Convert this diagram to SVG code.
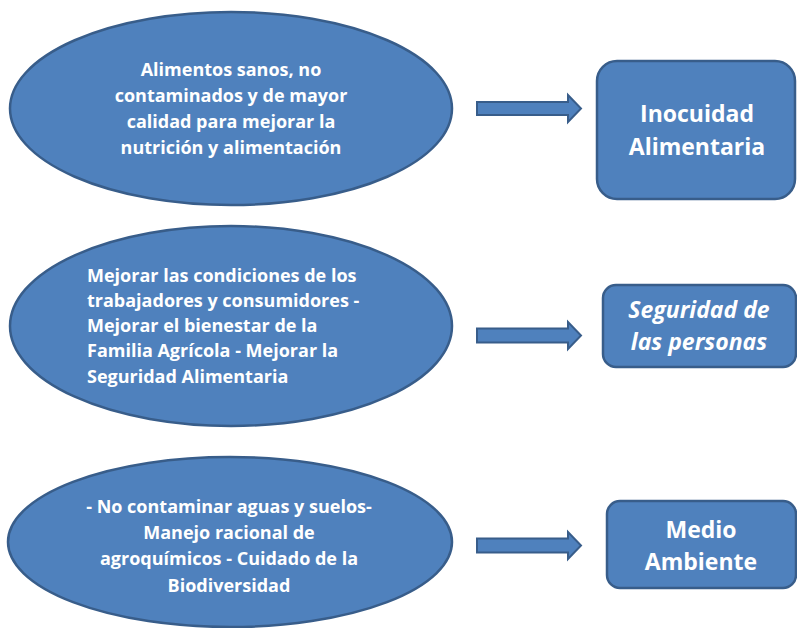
<svg xmlns="http://www.w3.org/2000/svg" width="797" height="628" viewBox="0 0 797 628">
<style>
.shape{fill:#4F81BD;stroke:#385D8A;stroke-width:2.5}
.arrow{fill:#4F81BD;stroke:#385D8A;stroke-width:2}
.et{font-family:"Open Sans","Liberation Sans",sans-serif;font-weight:bold;font-size:18px;fill:#fff}
.bt{font-family:"Open Sans","Liberation Sans",sans-serif;font-weight:bold;font-size:23px;fill:#fff;text-anchor:middle}
.c{text-anchor:middle}
</style>
<rect width="797" height="628" fill="#fff"/>
<g id="e1">
<ellipse class="shape" cx="231" cy="108.5" rx="221" ry="96.5"/>
<text class="et c" x="231" y="76">Alimentos sanos, no</text>
<text class="et c" x="231" y="102">contaminados y de mayor</text>
<text class="et c" x="231" y="128">calidad para mejorar la</text>
<text class="et c" x="231" y="154">nutrición y alimentación</text>
</g>
<g id="e2">
<ellipse class="shape" cx="231" cy="326" rx="221" ry="100"/>
<text class="et" x="87" y="282">Mejorar las condiciones de los</text>
<text class="et" x="87" y="307">trabajadores y consumidores -</text>
<text class="et" x="87" y="332">Mejorar el bienestar de la</text>
<text class="et" x="87" y="357">Familia Agrícola - Mejorar la</text>
<text class="et" x="87" y="383">Seguridad Alimentaria</text>
</g>
<g id="e3">
<ellipse class="shape" cx="230" cy="542" rx="222" ry="85"/>
<text class="et c" x="229" y="513">- No contaminar aguas y suelos-</text>
<text class="et c" x="229" y="539">Manejo racional de</text>
<text class="et c" x="229" y="565">agroquímicos - Cuidado de la</text>
<text class="et c" x="229" y="592">Biodiversidad</text>
</g>
<g id="connectors">
<path class="arrow" d="M477,102 H568 V95 L581,108.5 L568,122 V115 H477 Z"/>
<path class="arrow" d="M477,328.5 H568 V322 L581,335.5 L568,349 V342.5 H477 Z"/>
<path class="arrow" d="M477,538.5 H568 V532 L581,545.5 L568,559 V552.5 H477 Z"/>
</g>
<g id="b1">
<rect class="shape" x="597" y="61" width="198" height="138" rx="20"/>
<text class="bt" x="697" y="122">Inocuidad</text>
<text class="bt" x="697" y="155">Alimentaria</text>
</g>
<g id="b2">
<rect class="shape" x="603" y="285" width="193" height="82" rx="13"/>
<text class="bt" x="699" y="318" font-style="italic">Seguridad de</text>
<text class="bt" x="699" y="350" font-style="italic">las personas</text>
</g>
<g id="b3">
<rect class="shape" x="607" y="501" width="189" height="87" rx="13"/>
<text class="bt" x="701" y="538">Medio</text>
<text class="bt" x="701" y="570">Ambiente</text>
</g>
</svg>
